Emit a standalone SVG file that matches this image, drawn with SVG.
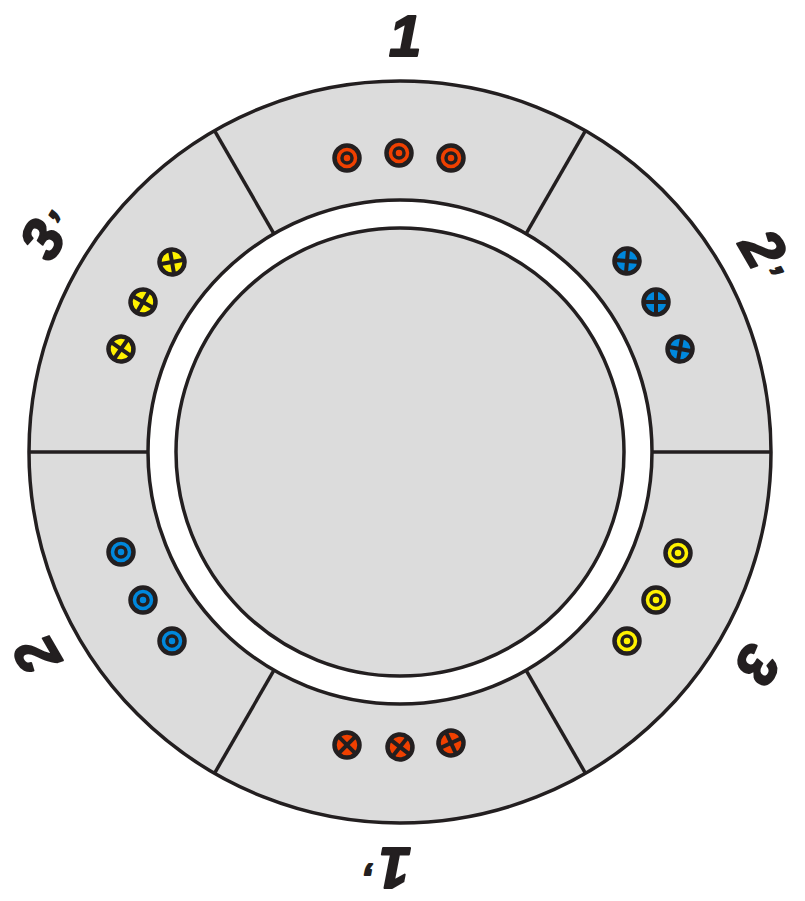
<svg xmlns="http://www.w3.org/2000/svg" width="805" height="901" viewBox="0 0 805 901">
<style>
.ln{stroke:#231f20;stroke-width:3.5;}
.ring{stroke:#231f20;stroke-width:3.5;}
.c{stroke:#231f20;stroke-width:4.5;}
.i{stroke:#231f20;stroke-width:3.5;}
.x{stroke:#231f20;stroke-width:4;stroke-linecap:butt;}
.r{fill:#f04000;}
.b{fill:#0088dd;}
.y{fill:#fff200;}
.lbl{font-family:"Liberation Sans",Arial,sans-serif;font-weight:bold;font-style:italic;font-size:58px;fill:#231f20;stroke:#231f20;stroke-width:2;stroke-linejoin:round;}
.pr{font-size:38px;}
</style>
<defs>
<g id="dotc"><circle class="c" r="12.5"/><circle class="i" r="5"/></g>
<g id="crossc"><circle class="c" r="12.5"/><line class="x" x1="-12.5" y1="0" x2="12.5" y2="0"/><line class="x" x1="0" y1="-12.5" x2="0" y2="12.5"/></g>
</defs>
<g id="stator">
<circle class="ring" cx="400" cy="452" r="371" fill="#dcdcdc"/>
<circle class="ring" cx="400" cy="452" r="252" fill="#ffffff"/>
<circle class="ring" cx="400" cy="452" r="224" fill="#dcdcdc"/>
</g>
<g id="connectors">
<line class="ln" x1="526" y1="233.8" x2="585.5" y2="130.7"/>
<line class="ln" x1="652" y1="452" x2="771" y2="452"/>
<line class="ln" x1="526" y1="670.2" x2="585.5" y2="773.3"/>
<line class="ln" x1="274" y1="670.2" x2="214.5" y2="773.3"/>
<line class="ln" x1="148" y1="452" x2="29" y2="452"/>
<line class="ln" x1="274" y1="233.8" x2="214.5" y2="130.7"/>
</g>
<g id="slot-1" class="r">
<use href="#dotc" x="347" y="158"/>
<use href="#dotc" x="399" y="153"/>
<use href="#dotc" x="451" y="158"/>
</g>
<g id="slot-2p" class="b">
<use href="#crossc" transform="translate(627,261) rotate(5)"/>
<use href="#crossc" transform="translate(656,302) rotate(0)"/>
<use href="#crossc" transform="translate(680,349) rotate(10)"/>
</g>
<g id="slot-3" class="y">
<use href="#dotc" x="678" y="553"/>
<use href="#dotc" x="656" y="600"/>
<use href="#dotc" x="627" y="641"/>
</g>
<g id="slot-1p" class="r">
<use href="#crossc" transform="translate(347,745) rotate(45)"/>
<use href="#crossc" transform="translate(400,747) rotate(38)"/>
<use href="#crossc" transform="translate(451,743) rotate(65)"/>
</g>
<g id="slot-2" class="b">
<use href="#dotc" x="121" y="552"/>
<use href="#dotc" x="143" y="600"/>
<use href="#dotc" x="172" y="641"/>
</g>
<g id="slot-3p" class="y">
<use href="#crossc" transform="translate(172,262) rotate(-10)"/>
<use href="#crossc" transform="translate(143,302) rotate(30)"/>
<use href="#crossc" transform="translate(121,349) rotate(35)"/>
</g>
<g id="labels">
<text class="lbl" x="389" y="56">1</text>
<text class="lbl" x="389" y="56" transform="rotate(60 400 452)">2<tspan class="pr" dx="3">’</tspan></text>
<text class="lbl" x="389" y="56" transform="rotate(120 400 452)">3</text>
<text class="lbl" x="389" y="56" transform="rotate(180 400 452)">1<tspan class="pr" dx="3">’</tspan></text>
<text class="lbl" x="389" y="56" transform="rotate(240 400 452)">2</text>
<text class="lbl" x="389" y="56" transform="rotate(300 400 452)">3<tspan class="pr" dx="3">’</tspan></text>
</g>
</svg>
